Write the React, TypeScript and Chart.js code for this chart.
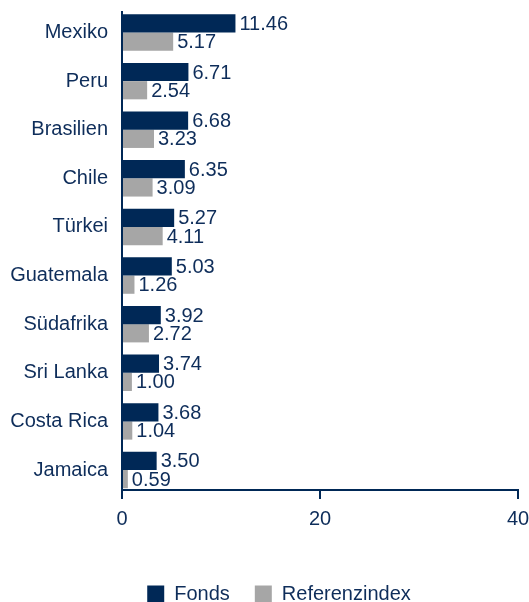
import React, { useEffect, useRef } from "react";
import { Chart, registerables } from "chart.js";

Chart.register(...registerables);

const categories = ["Mexiko", "Peru", "Brasilien", "Chile", "Türkei", "Guatemala", "Südafrika", "Sri Lanka", "Costa Rica", "Jamaica"];
const fonds = [11.46, 6.71, 6.68, 6.35, 5.27, 5.03, 3.92, 3.74, 3.68, 3.5];
const referenz = [5.17, 2.54, 3.23, 3.09, 4.11, 1.26, 2.72, 1.0, 1.04, 0.59];
const xTicks = [0, 20, 40];

const NAVY = "#002856";
const GREY = "#a6a6a6";
const TEXT = "#0e2d5a";
const FONT = "'Liberation Sans', Arial, sans-serif";
const FS = 20;

const valueLabels = {
  id: "valueLabels",
  afterDatasetsDraw(chart: any) {
    const ctx = chart.ctx;
    ctx.save();
    ctx.font = `${FS}px ${FONT}`;
    ctx.fillStyle = TEXT;
    ctx.textAlign = "left";
    ctx.textBaseline = "middle";
    chart.data.datasets.forEach((ds: any, i: number) => {
      const meta = chart.getDatasetMeta(i);
      meta.data.forEach((bar: any, j: number) => {
        ctx.fillText(Number(ds.data[j]).toFixed(2), bar.x + 4, bar.y + 1);
      });
    });
    ctx.restore();
  },
};

const legendShift = {
  id: "legendShift",
  beforeDraw(chart: any) {
    if (chart.legend) chart.legend.left = 40;
  },
};

export default function App() {
  const ref = useRef<HTMLCanvasElement>(null);
  useEffect(() => {
    if (!ref.current) return;
    const chart = new Chart(ref.current, {
      type: "bar",
      data: {
        labels: categories,
        datasets: [
          { label: "Fonds", data: fonds, backgroundColor: NAVY, barPercentage: 1, categoryPercentage: 0.75 },
          { label: "Referenzindex", data: referenz, backgroundColor: GREY, barPercentage: 1, categoryPercentage: 0.75 },
        ],
      },
      options: {
        indexAxis: "y",
        animation: false,
        responsive: true,
        maintainAspectRatio: false,
        layout: { padding: { top: 12, right: 11, left: 0, bottom: -12 } },
        plugins: {
          legend: {
            position: "bottom",
            labels: {
              boxWidth: 17,
              boxHeight: 17,
              padding: 25,
              color: TEXT,
              font: { size: FS, family: FONT },
            },
          },
          tooltip: { enabled: false },
        },
        scales: {
          x: {
            min: 0,
            max: 40,
            afterBuildTicks(scale: any) {
              scale.ticks = xTicks.map((v) => ({ value: v }));
            },
            afterFit(scale: any) {
              scale.height = 69;
              scale.paddingLeft = 0;
              scale.paddingRight = 0;
            },
            border: { display: true, color: NAVY, width: 2 },
            grid: { display: true, drawOnChartArea: false, drawTicks: true, tickLength: 9, color: NAVY, lineWidth: 2 },
            ticks: { color: TEXT, font: { size: FS, family: FONT }, padding: 8, maxRotation: 0 },
          },
          y: {
            afterBuildTicks(scale: any) {
              scale._startValue = -0.4217;
              scale._valueRange = 9.833;
            },
            afterFit(scale: any) {
              scale.width = 122;
              scale.paddingTop = 0;
              scale.paddingBottom = 0;
            },
            border: { display: true, color: NAVY, width: 2 },
            grid: { display: false, drawTicks: false },
            ticks: { color: TEXT, font: { size: FS, family: FONT }, padding: 14 },
          },
        },
      },
      plugins: [valueLabels, legendShift],
    });
    return () => chart.destroy();
  }, []);
  return (
    <div style={{ position: "fixed", left: 0, top: 0, width: 529, height: 602 }}>
      <canvas ref={ref} />
    </div>
  );
}
